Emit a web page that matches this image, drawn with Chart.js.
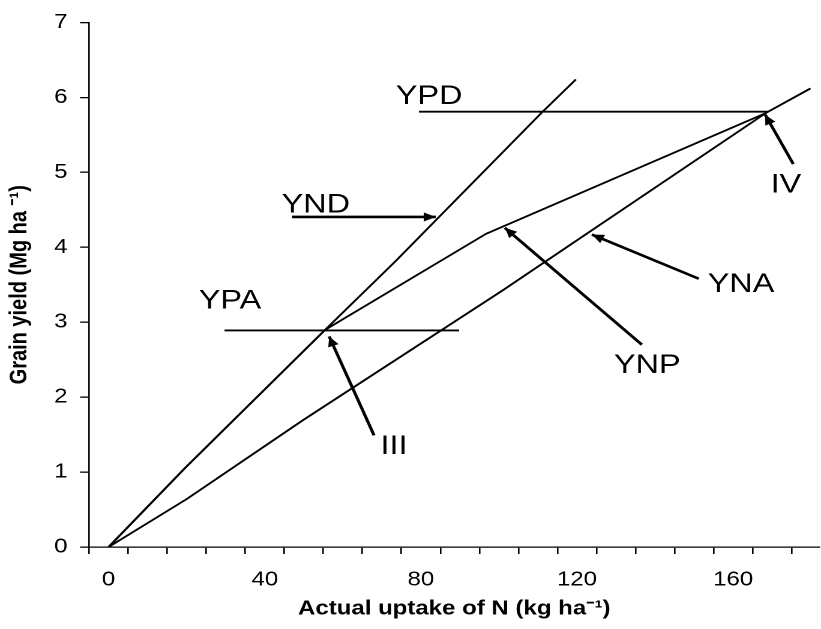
<!DOCTYPE html>
<html>
<head>
<meta charset="utf-8">
<title>Grain yield vs N uptake</title>
<script src="https://cdn.jsdelivr.net/npm/chart.js@4.4.1/dist/chart.umd.min.js"></script>
<style>
  html, body { margin: 0; padding: 0; background: #fff; overflow: hidden; }
  /* the figure is laid out narrow and widened horizontally */
  #wrap { position: absolute; left: 0; top: 0; width: 684px; height: 629px;
          transform: scaleX(1.2003); transform-origin: 0 0; }
</style>
</head>
<body>
<div id="wrap"><canvas id="chart"></canvas></div>
<script>
// N uptake (kg ha-1) on x, grain yield (Mg ha-1) on y

// maximum dilution line
const yndX = [0, 19.5, 55.5, 73.6, 111, 119.7];
const yndY = [0, 1.05, 2.9, 3.82, 5.8, 6.24];
// actual yield response
const ynpX = [0, 19.5, 55.5, 96.7, 168.3];
const ynpY = [0, 1.05, 2.9, 4.18, 5.79];
// maximum accumulation line
const ynaX = [0, 20, 50, 100.8, 168.3, 179.8];
const ynaY = [0, 0.64, 1.7, 3.42, 5.79, 6.12];
// yield plateaus
const ypaX = [29.7, 89.8];
const ypaY = [2.89, 2.89];
const ypdX = [79.5, 169];
const ypdY = [5.81, 5.81];

// pointer arrows (tail -> head)
const arrowName  = ['YND', 'III', 'YNP', 'YNA', 'IV'];
const arrowFromX = [47, 68, 136.6, 151.2, 175.4];
const arrowFromY = [4.405, 1.49, 2.70, 3.58, 5.11];
const arrowToX   = [83.8, 56.5, 101.5, 123.8, 168.2];
const arrowToY   = [4.405, 2.81, 4.26, 4.17, 5.77];

// annotation labels
const labelText = ['YPD', 'YND', 'YPA', 'III', 'YNP', 'YNA', 'IV'];
const labelX    = [82.1, 53.1, 31.1, 73.1, 138.0, 162.0, 173.5];
const labelY    = [6.04, 4.59, 3.31, 1.37, 2.45, 3.53, 4.86];

// axis ticks
const xTickMarks  = [-5, 5, 15, 25, 35, 45, 55, 65, 75, 85, 95, 105, 115, 125, 135, 145, 155, 165, 175];
const xTickLabels = [0, 40, 80, 120, 160];
const yTickLabels = [0, 1, 2, 3, 4, 5, 6, 7];

const FAMILY = '"Liberation Sans", Arial, Helvetica, sans-serif';
Chart.defaults.font.family = FAMILY;
Chart.defaults.color = '#000';

const pts = (xs, ys) => xs.map((x, i) => ({ x: x, y: ys[i] }));

const curve = (label, xs, ys) => ({
  label: label, data: pts(xs, ys), borderColor: '#000', borderWidth: 1.8,
  pointRadius: 0, tension: 0, fill: false, borderJoinStyle: 'round'
});

const datasets = [
  curve('YND line', yndX, yndY),
  curve('YNP curve', ynpX, ynpY),
  curve('YNA line', ynaX, ynaY),
  curve('YPA', ypaX, ypaY),
  curve('YPD', ypdX, ypdY)
];
arrowName.forEach((n, i) => {
  const d = curve(n + ' arrow', [arrowFromX[i], arrowToX[i]], [arrowFromY[i], arrowToY[i]]);
  d.borderWidth = 2.6;
  datasets.push(d);
});

// arrowheads and text labels placed through the chart scales
const annotate = {
  id: 'annotate',
  afterDatasetsDraw(chart) {
    const ctx = chart.ctx, xs = chart.scales.x, ys = chart.scales.y;
    ctx.save();
    ctx.fillStyle = '#000';
    const L = 10, W = 4.6;
    for (let i = 0; i < arrowName.length; i++) {
      const x0 = xs.getPixelForValue(arrowFromX[i]), y0 = ys.getPixelForValue(arrowFromY[i]);
      const x1 = xs.getPixelForValue(arrowToX[i]),   y1 = ys.getPixelForValue(arrowToY[i]);
      const len = Math.hypot(x1 - x0, y1 - y0);
      const ux = (x1 - x0) / len, uy = (y1 - y0) / len;
      const bx = x1 - ux * L, by = y1 - uy * L;
      ctx.beginPath();
      ctx.moveTo(x1, y1);
      ctx.lineTo(bx - uy * W, by + ux * W);
      ctx.lineTo(bx + uy * W, by - ux * W);
      ctx.closePath();
      ctx.fill();
    }
    const size = 27;
    ctx.font = size + 'px ' + FAMILY;
    ctx.textAlign = 'center';
    ctx.textBaseline = 'alphabetic';
    for (let i = 0; i < labelText.length; i++) {
      const px = xs.getPixelForValue(labelX[i]);
      const py = ys.getPixelForValue(labelY[i]) + size * 0.716 / 2;
      ctx.fillText(labelText[i], px, py);
    }
    ctx.restore();
  }
};

new Chart(document.getElementById('chart'), {
  type: 'line',
  data: { datasets: datasets },
  plugins: [annotate],
  options: {
    responsive: true,
    maintainAspectRatio: false,
    devicePixelRatio: 2,
    animation: false,
    events: [],
    layout: { padding: { top: 21, right: 0, bottom: 4, left: 0.7 } },
    plugins: { legend: { display: false }, tooltip: { enabled: false } },
    scales: {
      x: {
        type: 'linear', position: 'bottom', min: -5, max: 182.1,
        afterBuildTicks: (a) => { a.ticks = xTickMarks.map(v => ({ value: v })); },
        ticks: { display: false },
        grid: { drawOnChartArea: false, drawTicks: true, tickLength: 7, color: '#000', lineWidth: 1.3 },
        border: { display: true, color: '#000', width: 1.3 }
      },
      x2: {
        type: 'linear', position: 'bottom', min: -5, max: 182.1,
        afterBuildTicks: (a) => { a.ticks = xTickLabels.map(v => ({ value: v })); },
        ticks: { color: '#000', font: { size: 20 }, padding: 5, maxRotation: 0, autoSkip: false },
        grid: { display: false, drawTicks: true, tickLength: 9 },
        border: { display: false },
        title: {
          display: true, text: 'Actual uptake of N (kg ha\u207B\u00B9)', color: '#000',
          font: { size: 20, weight: 'bold' }, padding: { top: 0, bottom: 4 }
        }
      },
      y: {
        type: 'linear', min: 0, max: 7,
        afterBuildTicks: (a) => { a.ticks = yTickLabels.map(v => ({ value: v })); },
        ticks: { color: '#000', font: { size: 20 }, padding: 10.5 },
        grid: { drawOnChartArea: false, tickLength: 7.5, color: '#000', lineWidth: 1.3 },
        border: { color: '#000', width: 1.3 },
        title: {
          display: true, text: 'Grain yield (Mg ha \u207B\u00B9)', color: '#000',
          font: { size: 20, weight: 'bold' }, padding: { top: 4, bottom: 5.9 }
        }
      }
    }
  }
});
</script>
</body>
</html>
